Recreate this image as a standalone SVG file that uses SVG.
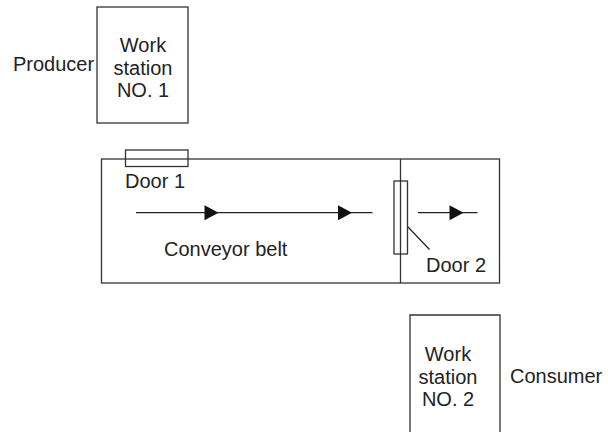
<svg xmlns="http://www.w3.org/2000/svg" width="608" height="432" viewBox="0 0 608 432">
  <style>
    .box { fill: none; stroke: #333; stroke-width: 1.3; }
    .ln { fill: none; stroke: #222; stroke-width: 1.2; }
    .t { font-family: "Liberation Sans", Arial, sans-serif; font-size: 20px; fill: #222; }
    .c { text-anchor: middle; }
  </style>
  <defs>
    <polygon id="head" points="-7,-7.5 7,0 -7,7.5" fill="#111"/>
  </defs>
  <rect width="608" height="432" fill="#fff"/>

  <g id="producer">
    <text class="t" x="13" y="71">Producer</text>
  </g>
  <g id="workstation1">
    <rect class="box" x="97" y="7" width="91" height="116"/>
    <text class="t c" x="143" y="52">Work</text>
    <text class="t c" x="143" y="74.5">station</text>
    <text class="t c" x="143" y="97">NO. 1</text>
  </g>

  <g id="conveyor">
    <rect class="box" x="101.5" y="159" width="398" height="124"/>
    <line class="box" x1="400.5" y1="159" x2="400.5" y2="283"/>
    <text class="t" x="164" y="256">Conveyor belt</text>
  </g>

  <g id="door1">
    <rect class="box" x="125.5" y="150" width="62.5" height="16.5"/>
    <text class="t" x="125" y="188">Door 1</text>
  </g>

  <g id="door2">
    <rect class="box" x="394" y="181" width="13.5" height="73"/>
    <text class="t" x="426" y="272">Door 2</text>
  </g>

  <g id="connectors">
    <line class="ln" x1="136" y1="212.7" x2="372.5" y2="212.7"/>
    <use href="#head" x="211.5" y="212.7"/>
    <use href="#head" x="345" y="212.7"/>
    <line class="ln" x1="418" y1="212.7" x2="477.5" y2="212.7"/>
    <use href="#head" x="456.5" y="212.7"/>
    <line class="ln" x1="407.5" y1="226.5" x2="429.5" y2="249.5"/>
  </g>

  <g id="workstation2">
    <path class="box" d="M410,432 V315 H500 V432"/>
    <text class="t c" x="448" y="361">Work</text>
    <text class="t c" x="448" y="383.5">station</text>
    <text class="t c" x="448" y="406">NO. 2</text>
  </g>
  <g id="consumer">
    <text class="t" x="510" y="383">Consumer</text>
  </g>
</svg>
